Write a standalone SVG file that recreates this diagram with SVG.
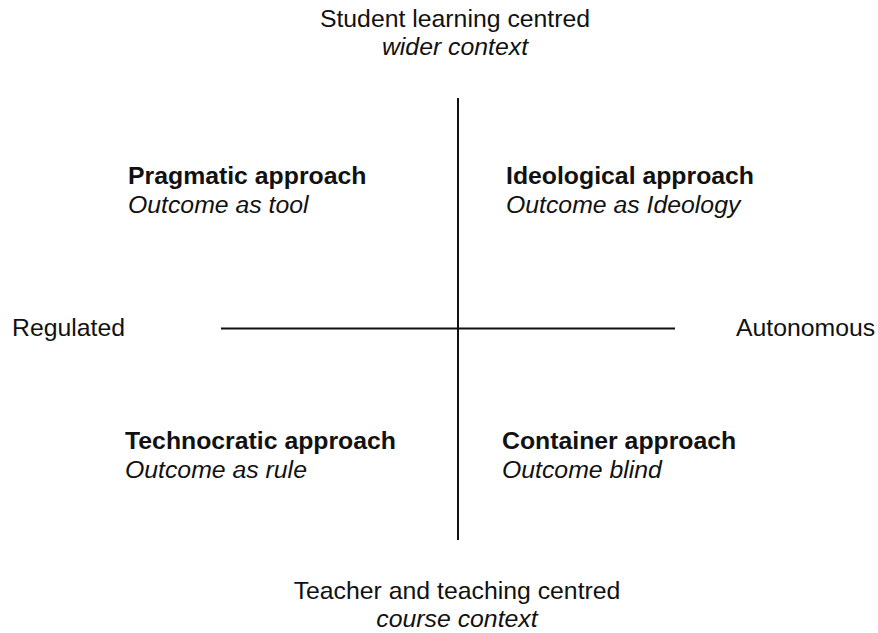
<svg xmlns="http://www.w3.org/2000/svg" width="878" height="633" viewBox="0 0 878 633">
<style>
text{font-family:"Liberation Sans",Arial,sans-serif;font-size:24.8px;fill:#111}
.b{font-weight:bold}
.i{font-style:italic}
.c{text-anchor:middle}
.ax{stroke:#111;stroke-width:2;fill:none}
</style>
<rect width="878" height="633" fill="#fff"/>
<g id="connectors">
<line class="ax" x1="458" y1="98" x2="458" y2="540"/>
<line class="ax" x1="221" y1="328.5" x2="675" y2="328.5"/>
</g>
<g id="top"><text class="c" x="455" y="27">Student learning centred</text><text class="c i" x="455" y="55">wider context</text></g>
<g id="bottom"><text class="c" x="457" y="599">Teacher and teaching centred</text><text class="c i" x="457" y="627">course context</text></g>
<g id="regulated"><text x="12" y="336">Regulated</text></g>
<g id="autonomous"><text x="736" y="336">Autonomous</text></g>
<g id="pragmatic"><text class="b" x="128" y="184">Pragmatic approach</text><text class="i" x="128" y="213">Outcome as tool</text></g>
<g id="ideological"><text class="b" x="506" y="184">Ideological approach</text><text class="i" x="506" y="213">Outcome as Ideology</text></g>
<g id="technocratic"><text class="b" x="125" y="449">Technocratic approach</text><text class="i" x="125" y="478">Outcome as rule</text></g>
<g id="container"><text class="b" x="502" y="449">Container approach</text><text class="i" x="502" y="478">Outcome blind</text></g>
</svg>
